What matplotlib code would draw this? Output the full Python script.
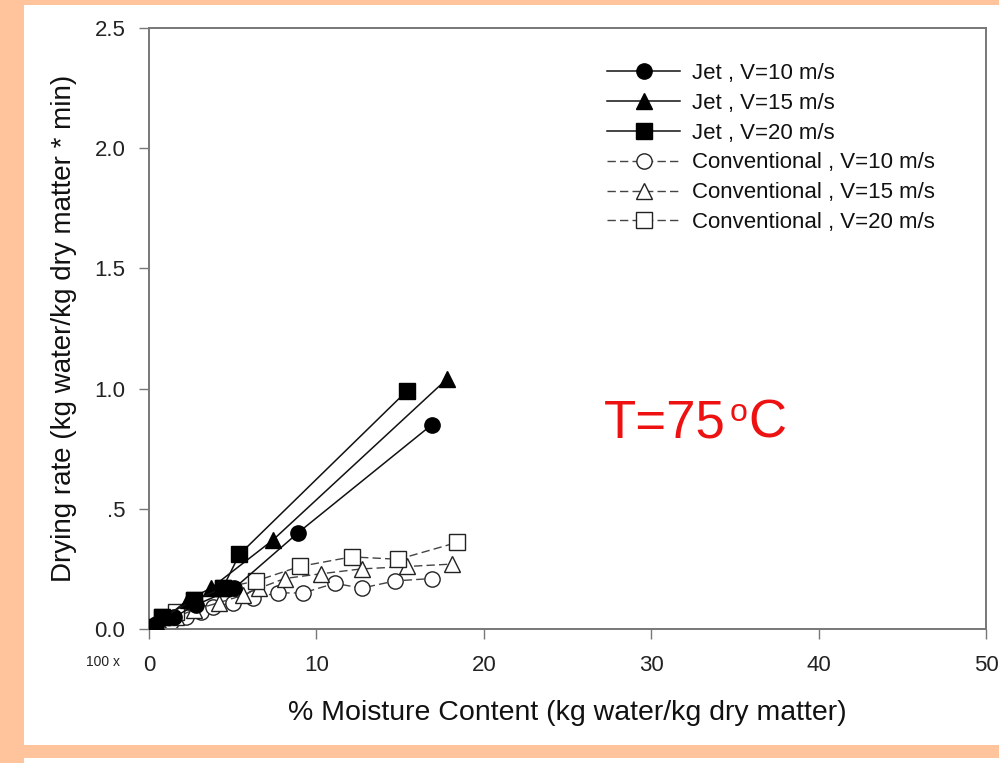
import matplotlib.pyplot as plt
from matplotlib.patches import Rectangle
from matplotlib.ticker import FixedLocator

plt.rcParams['font.family'] = ['Liberation Sans', 'DejaVu Sans']

# drying rate data (x = % moisture content, y = drying rate)
jet10_x = [0.0, 0.4, 1.5, 2.8, 5.1, 8.9, 16.9]
jet10_y = [0.01, 0.02, 0.05, 0.10, 0.17, 0.40, 0.85]
jet15_x = [0.0, 0.5, 2.3, 3.7, 7.4, 17.8]
jet15_y = [0.01, 0.02, 0.12, 0.17, 0.37, 1.04]
jet20_x = [0.0, 0.8, 2.7, 4.4, 5.4, 15.4]
jet20_y = [0.01, 0.05, 0.12, 0.17, 0.31, 0.99]

conv10_x = [0.0, 0.5, 1.3, 2.2, 3.1, 3.8, 5.0, 6.2, 7.7, 9.2, 11.1, 12.7, 14.7, 16.9]
conv10_y = [0.0, 0.01, 0.03, 0.05, 0.07, 0.09, 0.11, 0.13, 0.15, 0.15, 0.19, 0.17, 0.20, 0.21]
conv15_x = [0.0, 0.6, 1.6, 2.7, 4.2, 5.6, 6.6, 8.1, 10.3, 12.7, 15.4, 18.1]
conv15_y = [0.0, 0.02, 0.05, 0.08, 0.11, 0.14, 0.17, 0.21, 0.23, 0.25, 0.26, 0.27]
conv20_x = [0.0, 0.8, 1.6, 2.7, 4.4, 6.4, 9.0, 12.1, 14.9, 18.4]
conv20_y = [0.01, 0.05, 0.07, 0.12, 0.17, 0.20, 0.26, 0.30, 0.29, 0.36]

yticks = [0.0, 0.5, 1.0, 1.5, 2.0, 2.5]
ytick_labels = ['0.0', '.5', '1.0', '1.5', '2.0', '2.5']
xticks = [0, 10, 20, 30, 40, 50]

fig = plt.figure(figsize=(9.99, 7.63), dpi=100)
fig.patch.set_facecolor('#ffc49c')
# white panel inside the orange frame (kept behind the axes)
fig.patches.append(Rectangle((24/999, 18/763), 1, 1 - 23/763, transform=fig.transFigure,
                             facecolor='white', edgecolor='none', zorder=-5))
fig.patches.append(Rectangle((24/999, 0), 1, 5/763, transform=fig.transFigure,
                             facecolor='white', edgecolor='none', zorder=-5))

ax = fig.add_axes([149/999, 134/763, 837/999, 601/763])
ax.set_facecolor('white')
ax.set_zorder(2)

ms = 11
ax.plot(jet10_x, jet10_y, '-', color='#111111', lw=1.1, marker='o', ms=ms, mfc='black', mec='black',
        label='Jet , V=10 m/s', zorder=3)
ax.plot(jet15_x, jet15_y, '-', color='#111111', lw=1.1, marker='^', ms=ms + 1, mfc='black', mec='black',
        label='Jet , V=15 m/s', zorder=3)
ax.plot(jet20_x, jet20_y, '-', color='#111111', lw=1.1, marker='s', ms=ms, mfc='black', mec='black',
        label='Jet , V=20 m/s', zorder=3)
dash = (0, (6, 3))
ax.plot(conv10_x, conv10_y, linestyle=dash, color='#444444', lw=1.0, marker='o', ms=ms, mfc='white',
        mec='#222222', label='Conventional , V=10 m/s', zorder=2)
ax.plot(conv15_x, conv15_y, linestyle=dash, color='#444444', lw=1.0, marker='^', ms=ms + 1, mfc='white',
        mec='#222222', label='Conventional , V=15 m/s', zorder=2)
ax.plot(conv20_x, conv20_y, linestyle=dash, color='#444444', lw=1.0, marker='s', ms=ms, mfc='white',
        mec='#222222', label='Conventional , V=20 m/s', zorder=2)

ax.set_xlim(0, 50)
ax.set_ylim(0, 2.5)
ax.xaxis.set_major_locator(FixedLocator(xticks))
ax.set_yticks(yticks)
ax.set_yticklabels(ytick_labels)
ax.tick_params(direction='out', length=7, width=1, labelsize=16, colors='#777777', labelcolor='#222222')
ax.tick_params(axis='x', pad=12)
ax.tick_params(axis='y', pad=10)
for s in ax.spines.values():
    s.set_color('#777777')
    s.set_linewidth(1.4)

ax.set_xlabel('% Moisture Content (kg water/kg dry matter)', fontsize=20.5, labelpad=17, color='#111111')
ax.set_ylabel('Drying rate (kg water/kg dry matter * min)', fontsize=20, color='#111111')
ax.yaxis.set_label_coords(-72/837, 0.5)

fig.text(86/999, 1 - 662/763, '100 x', fontsize=10, va='center', ha='left', color='#222222')

# T=75 with small raised "o", built from pieces
red = '#ee1111'
fig.canvas.draw()
r = fig.canvas.get_renderer()
t1 = fig.text(604/999, 1 - 438/763, 'T=75', color=red, fontsize=38, va='baseline', ha='left')
bb = t1.get_window_extent(r)
t2 = fig.text((bb.x1 + 4)/999, 1 - 421/763, 'o', color=red, fontsize=23, va='baseline', ha='left')
bb2 = t2.get_window_extent(r)
fig.text((bb2.x1 + 1)/999, 1 - 438/763, 'C', color=red, fontsize=38, va='baseline', ha='left')

leg = ax.legend(loc='upper left', bbox_to_anchor=(449/837, 0.957), frameon=False, fontsize=16,
                handlelength=3.3, labelspacing=0.40, handletextpad=0.55, borderaxespad=0)
for t in leg.get_texts():
    t.set_color('#111111')

fig.savefig('out.png', dpi=100, facecolor=fig.get_facecolor())
